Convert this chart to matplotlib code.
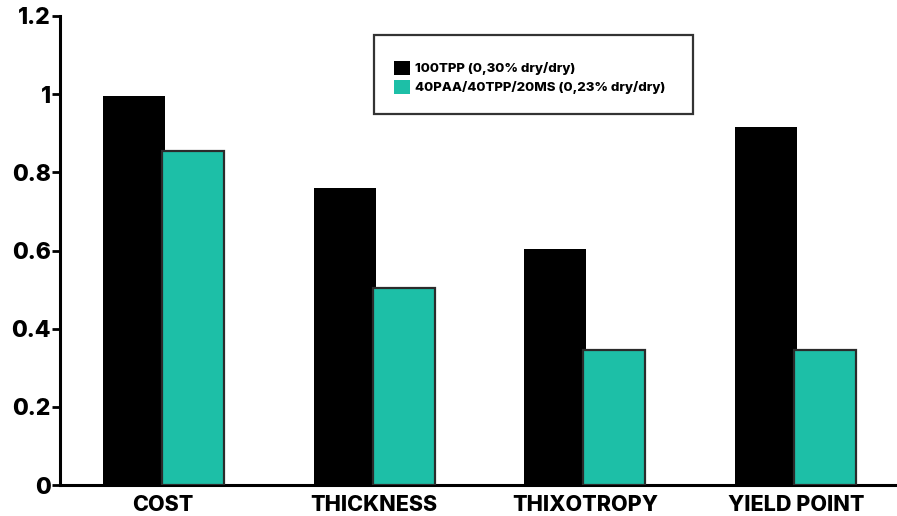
import matplotlib
matplotlib.use("Agg")
import matplotlib.pyplot as plt
import numpy as np
from matplotlib.patches import Rectangle, Patch

categories = ["COST", "THICKNESS", "THIXOTROPY", "YIELD POINT"]
series_names = ["100TPP (0,30% dry/dry)", "40PAA/40TPP/20MS (0,23% dry/dry)"]
tpp_values = [0.995, 0.76, 0.605, 0.915]
blend_values = [0.855, 0.505, 0.345, 0.345]
y_ticks = [0, 0.2, 0.4, 0.6, 0.8, 1.0, 1.2]
y_tick_labels = ["0", "0.2", "0.4", "0.6", "0.8", "1", "1.2"]

BLACK = "#000000"
TEAL = "#1dbfa7"
EDGE = "#2b2b2b"
WEIGHT = "heavy"

plt.rcParams["font.family"] = ["Inter", "DejaVu Sans"]

fig = plt.figure(figsize=(8.97, 5.16), dpi=100)
ax = fig.add_axes([60 / 897, 1 - 485 / 516, 1 - 60 / 897, (485 - 16) / 516])

x = np.arange(len(categories))
w = 0.294
off = 0.14
ax.bar(x - off, tpp_values, width=w, color=BLACK, linewidth=0, zorder=2)
ax.bar(x + off, blend_values, width=w, color=TEAL, edgecolor=EDGE,
       linewidth=1.6, zorder=3)

ax.set_xlim(-0.49, 3.48)
ax.set_ylim(0, 1.2)
ax.set_yticks(y_ticks)
ax.set_yticklabels(y_tick_labels, fontsize=16.5, fontweight=WEIGHT)
ax.set_xticks(x)
ax.set_xticklabels(categories, fontsize=15.5, fontweight=WEIGHT)

for side in ("top", "right"):
    ax.spines[side].set_visible(False)
for side in ("left", "bottom"):
    ax.spines[side].set_linewidth(2.2)
    ax.spines[side].set_color(BLACK)

ax.tick_params(axis="y", direction="out", length=5.5, width=2, pad=1, colors=BLACK)
ax.tick_params(axis="x", length=0, pad=7, colors=BLACK)

# legend with a separate outlined frame
fig.patches.append(Rectangle((374 / 897, 1 - 114 / 516), (693 - 374) / 897,
                             (114 - 35) / 516, transform=fig.transFigure,
                             fill=False, edgecolor="#333333", linewidth=1.6))
handles = [Patch(facecolor=BLACK, edgecolor="none"),
           Patch(facecolor=TEAL, edgecolor="none")]
fig.legend(handles, series_names, loc="upper left",
           bbox_to_anchor=(394 / 897, 1 - 61 / 516), frameon=False,
           prop={"size": 9.5, "weight": WEIGHT}, handlelength=1.2,
           handleheight=1.25, handletextpad=0.4, labelspacing=0.35,
           borderpad=0, borderaxespad=0)

fig.savefig("out.png", dpi=100)
